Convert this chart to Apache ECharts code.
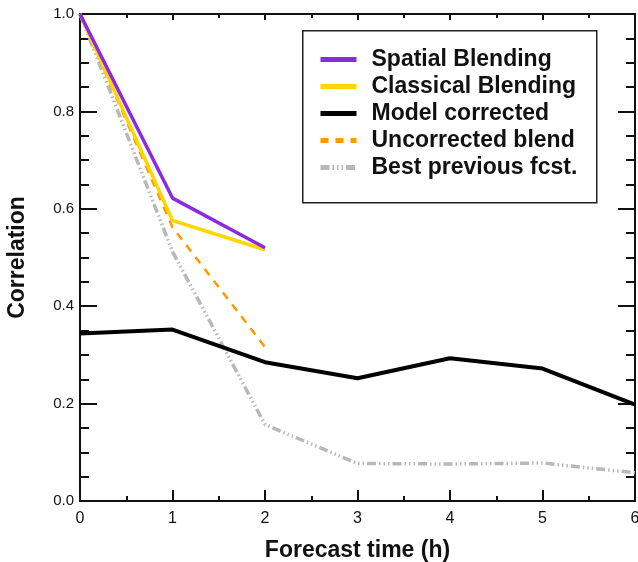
<!DOCTYPE html>
<html><head><meta charset="utf-8">
<script src="https://cdn.jsdelivr.net/npm/echarts@6/dist/echarts.min.js"></script>
<style>html,body{margin:0;padding:0;background:#fff}#c{width:638px;height:562px}</style>
</head><body><div id="c"></div>
<script>
const hours = [0, 1, 2, 3, 4, 5, 6];
const spatial = [1.0, 0.622, 0.52];
const classical = [1.0, 0.576, 0.516];
const modelCorrected = [0.344, 0.352, 0.285, 0.252, 0.293, 0.272, 0.198];
const uncorrected = [1.0, 0.562, 0.316];
const bestPrevious = [1.0, 0.512, 0.157, 0.077, 0.076, 0.078, 0.058];
const seriesNames = ['Spatial Blending', 'Classical Blending', 'Model corrected', 'Uncorrected blend', 'Best previous fcst.'];
const xTitle = 'Forecast time (h)';
const yTitle = 'Correlation';

const pairs = (vals) => vals.map((v, i) => [hours[i], v]);
const FONT = 'Liberation Sans, Arial, sans-serif';
const gridRect = { left: 80, right: 3, top: 14, bottom: 61, containLabel: false, outerBoundsMode: 'none' };
const tickLine = { color: '#111', width: 2 };

function axis(dim, gridIndex, position, interval, tickLen, extra) {
  const isX = dim === 'x';
  return Object.assign({
    type: 'value', gridIndex, position,
    min: 0, max: isX ? 6 : 1, interval,
    axisLine: { show: gridIndex === 0, onZero: false, lineStyle: { color: '#111', width: 2 } },
    axisTick: { show: true, inside: true, length: tickLen, lineStyle: tickLine },
    minorTick: { show: false },
    splitLine: { show: false },
    axisLabel: { show: false }
  }, extra || {});
}

const chart = echarts.init(document.getElementById('c'));
chart.setOption({
  animation: false,
  backgroundColor: '#fff',
  grid: [Object.assign({}, gridRect), Object.assign({}, gridRect)],
  xAxis: [
    axis('x', 0, 'bottom', 1, 11, {
      axisLabel: { show: true, fontSize: 16, color: '#111', margin: 10, fontFamily: FONT },
      name: xTitle, nameLocation: 'middle', nameGap: 38,
      nameTextStyle: { fontSize: 23, fontWeight: 'bold', color: '#111', fontFamily: FONT }
    }),
    axis('x', 0, 'top', 1, 6),
    axis('x', 1, 'bottom', 0.5, 5),
    axis('x', 1, 'top', 0.5, 4)
  ],
  yAxis: [
    axis('y', 0, 'left', 0.2, 17, {
      axisLabel: { show: true, fontSize: 15, color: '#111', margin: 6, fontFamily: FONT, formatter: v => v.toFixed(1) },
      name: yTitle, nameLocation: 'middle', nameGap: 51, nameRotate: 90,
      nameTextStyle: { fontSize: 23, fontWeight: 'bold', color: '#111', fontFamily: FONT }
    }),
    axis('y', 0, 'right', 0.2, 17),
    axis('y', 1, 'left', 0.05, 9),
    axis('y', 1, 'right', 0.05, 9)
  ],
  graphic: [{
    type: 'rect', left: 302, top: 30, z: 10,
    shape: { width: 294, height: 172 },
    style: { fill: '#fff', stroke: '#222', lineWidth: 1.5 }
  }],
  legend: {
    orient: 'vertical', left: 313, top: 41, z: 20,
    data: seriesNames,
    itemWidth: 36, itemHeight: 14, itemGap: 0,
    lineStyle: { width: 5 },
    itemStyle: { opacity: 0 },
    textStyle: { fontSize: 23, fontWeight: 'bold', color: '#111', fontFamily: FONT, lineHeight: 27, padding: [0, 0, 0, 10] },
    selectedMode: false
  },
  series: [
    { name: seriesNames[4], type: 'line', data: pairs(bestPrevious), symbol: 'none', z: 2,
      lineStyle: { color: '#b8b8b8', width: 3.5, type: [9, 3, 1.5, 3, 1.5, 3, 1.5, 3] }, itemStyle: { color: '#b8b8b8' } },
    { name: seriesNames[3], type: 'line', data: pairs(uncorrected), symbol: 'none', z: 3,
      lineStyle: { color: '#ff9900', width: 2.5, type: [8, 7] }, itemStyle: { color: '#ff9900' } },
    { name: seriesNames[2], type: 'line', data: pairs(modelCorrected), symbol: 'none', z: 4,
      lineStyle: { color: '#000', width: 4 }, itemStyle: { color: '#000' } },
    { name: seriesNames[1], type: 'line', data: pairs(classical), symbol: 'none', z: 5,
      lineStyle: { color: '#ffd700', width: 3.5 }, itemStyle: { color: '#ffd700' } },
    { name: seriesNames[0], type: 'line', data: pairs(spatial), symbol: 'none', z: 6,
      lineStyle: { color: '#8a2be2', width: 3.5 }, itemStyle: { color: '#8a2be2' } }
  ]
});
</script></body></html>
